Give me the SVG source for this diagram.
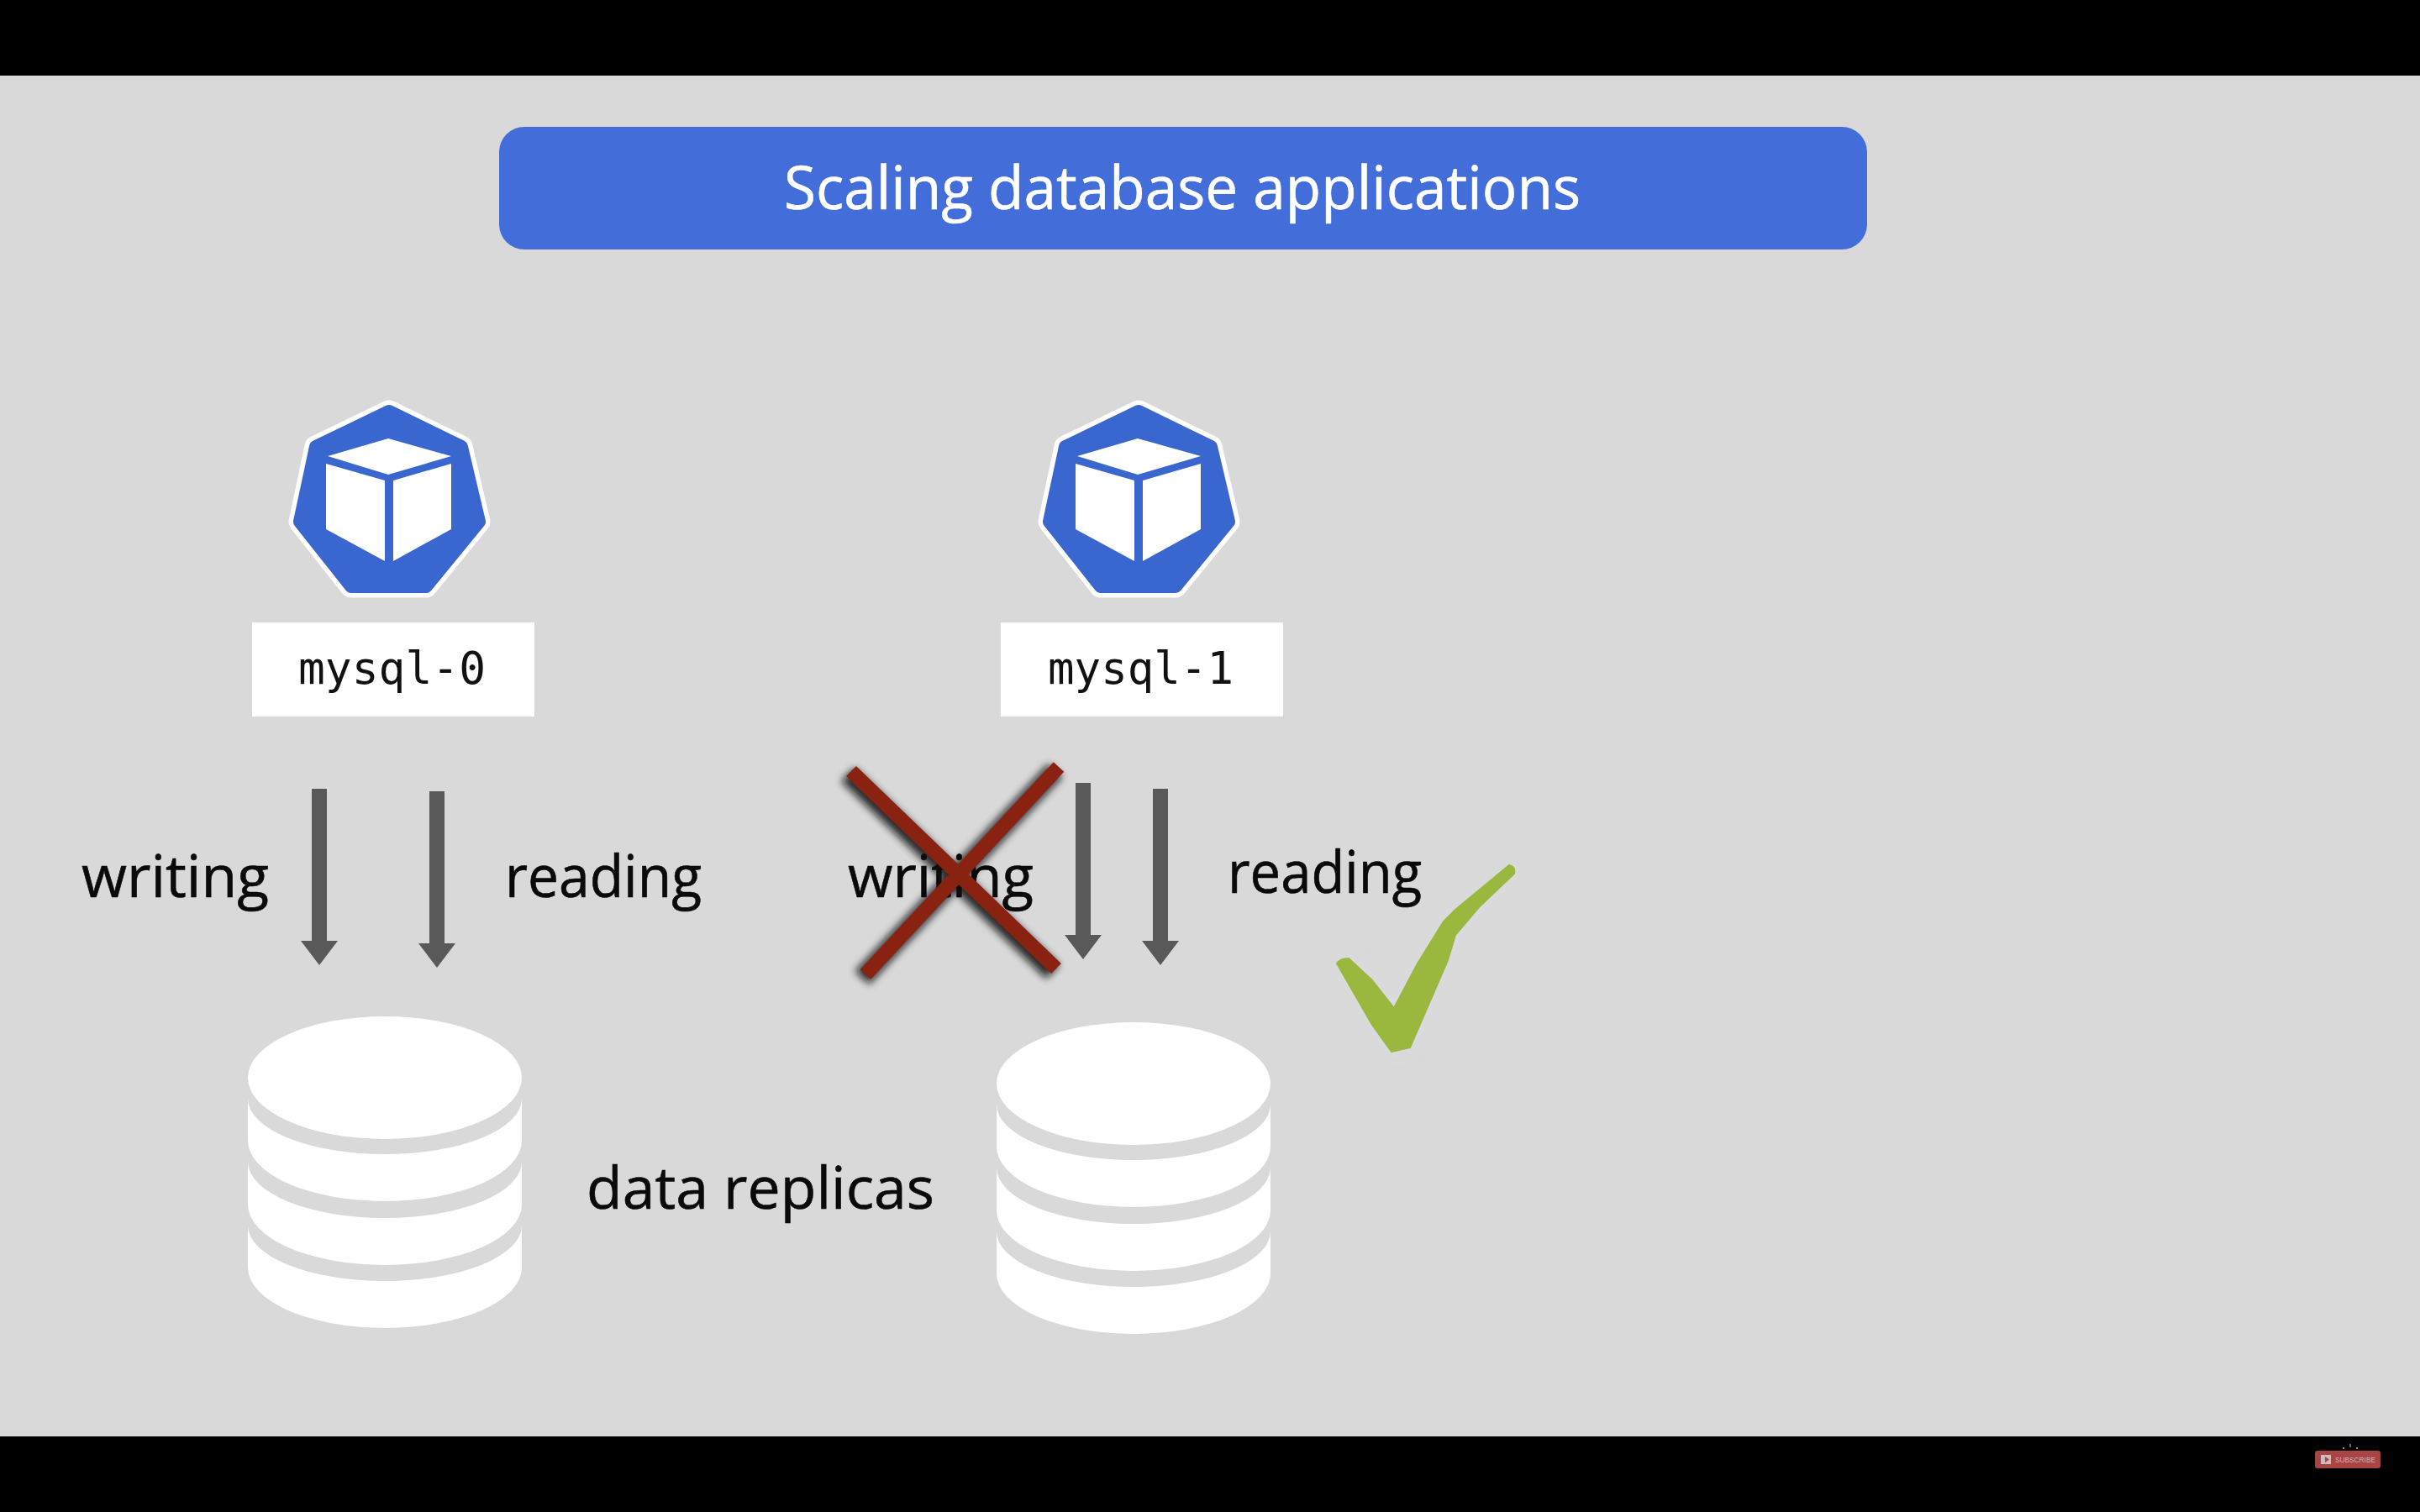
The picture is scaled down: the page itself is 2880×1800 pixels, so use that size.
<svg xmlns="http://www.w3.org/2000/svg" width="2880" height="1800" viewBox="0 0 2880 1800">
<style>
.sans{font-family:"Open Sans","Noto Sans",sans-serif;fill:#0a0a0a;stroke:#0a0a0a;stroke-width:.6;font-size:70px}
.mono{font-family:"DejaVu Sans Mono","Liberation Mono",monospace;fill:#111;font-size:53px}
.hept-o{fill:#fff;stroke:#fff;stroke-width:27;stroke-linejoin:round}
.hept{fill:#3a66cf;stroke:#3a66cf;stroke-width:16;stroke-linejoin:round}
.cube{fill:#fff}
.db{fill:#fff}
.band{fill:#d9d9d9}
.arrow{stroke:#595959;stroke-width:18;fill:none}
</style>
<defs>
<marker id="head" markerUnits="userSpaceOnUse" markerWidth="30" markerHeight="44" refX="0" refY="22" viewBox="0 0 30 44" orient="auto">
<path d="M0,0 L29,22 L0,44 Z" fill="#595959"/>
</marker>
<filter id="soft" x="-20%" y="-20%" width="140%" height="140%"><feGaussianBlur stdDeviation="5"/></filter>
<filter id="halo" x="-30%" y="-30%" width="160%" height="160%"><feGaussianBlur stdDeviation="10"/></filter>
<g id="podicon">
<polygon class="hept-o" points="463,490 549,532 570,621 507,698 418,698 357,621 376,532"/>
<polygon class="hept" points="463,490 549,532 570,621 507,698 418,698 357,621 376,532"/>
<polygon class="cube" points="462,522 537,543 462,565 390,543"/>
<polygon class="cube" points="388,552 458,572 458,668 388,630"/>
<polygon class="cube" points="468,572 537,552 537,630 468,668"/>
</g>
<g id="dbicon">
<path class="db" d="M295,1283 A163,73 0 0 1 621,1283 L621,1509 A163,72 0 0 1 295,1509 Z"/>
<path class="band" d="M295,1283 A163,73 0 0 0 621,1283 L621,1308 A163,66 0 0 1 295,1308 Z"/>
<path class="band" d="M295,1358 A163,72 0 0 0 621,1358 L621,1383 A163,67 0 0 1 295,1383 Z"/>
<path class="band" d="M295,1434 A163,72 0 0 0 621,1434 L621,1459 A163,66 0 0 1 295,1459 Z"/>
</g>
</defs>

<rect x="0" y="0" width="2880" height="1800" fill="#000"/>
<rect x="0" y="90" width="2880" height="1620" fill="#d9d9d9"/>

<g id="title">
<rect x="594" y="151" width="1628" height="146" rx="30" fill="#436dd9"/>
<text x="933" y="249" class="sans" style="fill:#fff;stroke:#fff;font-size:72px" textLength="948" lengthAdjust="spacingAndGlyphs">Scaling database applications</text>
</g>

<g id="mysql-0">
<use href="#podicon"/>
<rect x="300" y="741" width="336" height="112" fill="#fff"/>
<text x="355" y="814" class="mono" textLength="223" lengthAdjust="spacingAndGlyphs">mysql-0</text>
</g>

<g id="mysql-1">
<use href="#podicon" x="892"/>
<rect x="1191" y="741" width="336" height="112" fill="#fff"/>
<text x="1247" y="814" class="mono" textLength="221" lengthAdjust="spacingAndGlyphs">mysql-1</text>
</g>

<g id="connectors">
<line class="arrow" x1="380" y1="939" x2="380" y2="1120" marker-end="url(#head)"/>
<line class="arrow" x1="520" y1="942" x2="520" y2="1123" marker-end="url(#head)"/>
<line class="arrow" x1="1289" y1="932" x2="1289" y2="1113" marker-end="url(#head)"/>
<line class="arrow" x1="1381" y1="939" x2="1381" y2="1120" marker-end="url(#head)"/>
</g>

<g id="labels">
<text x="97" y="1068" class="sans" textLength="223" lengthAdjust="spacingAndGlyphs">writing</text>
<text x="601" y="1068" class="sans" textLength="234" lengthAdjust="spacingAndGlyphs">reading</text>
<text x="1009" y="1068" class="sans" textLength="221" lengthAdjust="spacingAndGlyphs">writing</text>
<text x="1461" y="1063" class="sans" textLength="231" lengthAdjust="spacingAndGlyphs">reading</text>
<text x="698" y="1439" class="sans" textLength="414" lengthAdjust="spacingAndGlyphs">data replicas</text>
</g>

<g id="db-0"><use href="#dbicon"/></g>
<g id="db-1"><use href="#dbicon" x="891" y="7"/></g>

<g id="cross">
<g filter="url(#soft)" stroke="#111" stroke-width="23" opacity="0.85" transform="translate(-4,4)">
<line x1="1013" y1="918" x2="1257" y2="1153"/>
<line x1="1260" y1="913" x2="1030" y2="1160"/>
</g>
<g stroke="#8a2212" stroke-width="17">
<line x1="1013" y1="918" x2="1257" y2="1153"/>
<line x1="1260" y1="913" x2="1030" y2="1160"/>
</g>
</g>

<g id="check">
<path d="M1591,1143 L1605,1141 L1659,1200 L1718,1097 L1799,1030 L1802,1040 L1732,1113 L1678,1247 L1656,1252 L1633,1220 Z" fill="#dfdfea" filter="url(#halo)" opacity="0.8"/>
<path d="M1591,1147 Q1595,1141 1605,1141 L1633,1167 L1659,1200 L1687,1147 L1718,1097 L1732,1083 L1796,1030 Q1804,1032 1802,1040 L1760,1080 L1732,1113 L1723,1143 L1678,1247 L1656,1252 L1653,1248 L1633,1220 Z" fill="#9ab83e" stroke="#9ab83e" stroke-width="2" stroke-linejoin="round"/>
</g>

<g id="subscribe">
<rect x="2755" y="1727" width="78" height="21" rx="3" fill="#a84444"/>
<rect x="2762" y="1732" width="12" height="11" fill="#cdbcbc"/>
<polygon points="2767,1734 2772,1737.5 2767,1741" fill="#a84444"/>
<text x="2779" y="1741" font-family="Liberation Sans, sans-serif" font-size="8.5" fill="#d8b0b0" textLength="48" lengthAdjust="spacingAndGlyphs">SUBSCRIBE</text>
<rect x="2796" y="1719" width="2" height="4" fill="#666"/>
<rect x="2788" y="1723" width="2" height="2" fill="#888"/>
<rect x="2804" y="1723" width="2" height="2" fill="#888"/>
</g>
</svg>
